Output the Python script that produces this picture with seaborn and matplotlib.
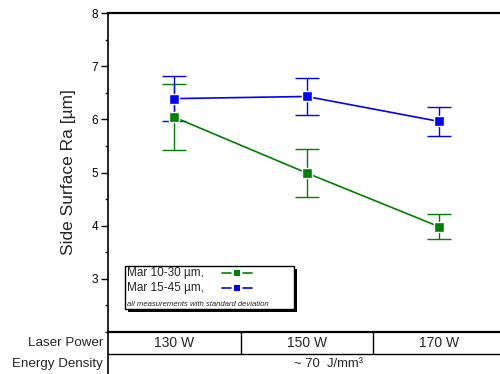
import numpy as np
import pandas as pd
import matplotlib
matplotlib.use('Agg')
import matplotlib.pyplot as plt
import seaborn as sns
from matplotlib.lines import Line2D
from matplotlib.patches import Rectangle
from matplotlib.ticker import AutoMinorLocator

powers = ['130 W', '150 W', '170 W']
series = ['Mar 10-30 µm,', 'Mar 15-45 µm,']
ra_10_30 = [6.04, 4.99, 3.98]
sd_10_30 = [0.62, 0.45, 0.24]
ra_15_45 = [6.39, 6.43, 5.96]
sd_15_45 = [0.43, 0.34, 0.27]
yticks = [3, 4, 5, 6, 7, 8]
energy_label = '~ 70  J/mm³'
note = 'all measurements with standard deviation'
colors = ['#008000', '#0000FF']

df = pd.DataFrame({
    'pos': [0, 1, 2] * 2,
    'power': powers * 2,
    'Ra': ra_10_30 + ra_15_45,
    'sd': sd_10_30 + sd_15_45,
    'series': [series[0]] * 3 + [series[1]] * 3,
})

sns.set_style('ticks')
plt.rcParams['font.family'] = ['Liberation Sans', 'DejaVu Sans']
W, H = 500, 374
fig = plt.figure(figsize=(5, 3.74), dpi=100)
ax = fig.add_axes([108 / W, (H - 332) / H, 392 / W, 319 / H])

for s, c in zip(series, colors):
    d = df[df.series == s]
    ax.errorbar(d.pos, d.Ra, yerr=d.sd, fmt='none', ecolor=c, elinewidth=1,
                capsize=8.5, capthick=1, zorder=2)
sns.lineplot(data=df, x='pos', y='Ra', hue='series', palette=colors, marker='s',
             markersize=7, markeredgecolor='white', markeredgewidth=1,
             linewidth=1.2, legend=False, ax=ax, zorder=3)

ax.set_xlim(-0.5, -0.5 + 392 / 132.5)
ax.set_ylim(2, 8)
ax.set_yticks(yticks)
ax.yaxis.set_minor_locator(AutoMinorLocator(2))
ax.tick_params(axis='y', which='major', direction='out', length=5, width=1,
               labelsize=8.5, pad=2, colors='black')
ax.tick_params(axis='y', which='minor', direction='out', length=2.5, width=1)
ax.set_xticks([0, 1, 2], powers)
ax.tick_params(axis='x', length=0, labelsize=10, pad=3)
ax.set_xlabel('')
ax.set_ylabel('Side Surface Ra [µm]', fontsize=12.5, labelpad=11)

ax.spines['right'].set_visible(False)
ax.spines['top'].set_linewidth(1.6)
ax.spines['bottom'].set_linewidth(1.6)
ax.spines['left'].set_linewidth(1.2)
for sp in ax.spines.values():
    sp.set_color('black')

# table lines
row = 22 / 319
trans = ax.get_xaxis_transform()
for xb in [0.5, 1.5]:
    ax.plot([xb, xb], [0, -row], transform=trans, color='black', lw=1, clip_on=False)
ax.plot([0, 1], [-row, -row], transform=ax.transAxes, color='black', lw=1, clip_on=False)
ax.plot([0, 0], [0, -42 / 319], transform=ax.transAxes, color='black', lw=1.2, clip_on=False)
ax.text(-0.012, -11 / 319, 'Laser Power', ha='right', va='center', fontsize=9.6,
        transform=ax.transAxes)
ax.text(-0.012, -32 / 319, 'Energy Density', ha='right', va='center', fontsize=9.6,
        transform=ax.transAxes)
ax.text((329 - 108) / 392, -32 / 319, energy_label, ha='center', va='center',
        fontsize=9.4, transform=ax.transAxes)

# legend (manual)
def fx(x):
    return x / W

def fy(y):
    return 1 - y / H

fig.add_artist(Rectangle((fx(128), fy(312)), fx(294) - fx(125), fy(266) - fy(309),
                         transform=fig.transFigure, facecolor='black', edgecolor='black',
                         lw=0, zorder=5))
fig.add_artist(Rectangle((fx(125), fy(309)), fx(294) - fx(125), fy(266) - fy(309),
                         transform=fig.transFigure, facecolor='white', edgecolor='black',
                         lw=1, zorder=6))
for i, (s, c) in enumerate(zip(series, colors)):
    yy = [273, 288][i]
    fig.text(fx(127), fy(yy), s, ha='left', va='center', fontsize=8.5, zorder=7)
    for seg in ([222, 231], [243, 252]):
        fig.add_artist(Line2D([fx(seg[0]), fx(seg[1])], [fy(yy), fy(yy)],
                              transform=fig.transFigure, color=c, lw=1.2, zorder=7))
    fig.add_artist(Line2D([fx(237)], [fy(yy)], transform=fig.transFigure, marker='s',
                          markersize=5, color=c, markeredgewidth=0, zorder=7))
fig.text(fx(127), fy(304), note, ha='left', va='center', fontsize=5.6, style='italic',
         zorder=7)

fig.savefig('out.png', dpi=100)
